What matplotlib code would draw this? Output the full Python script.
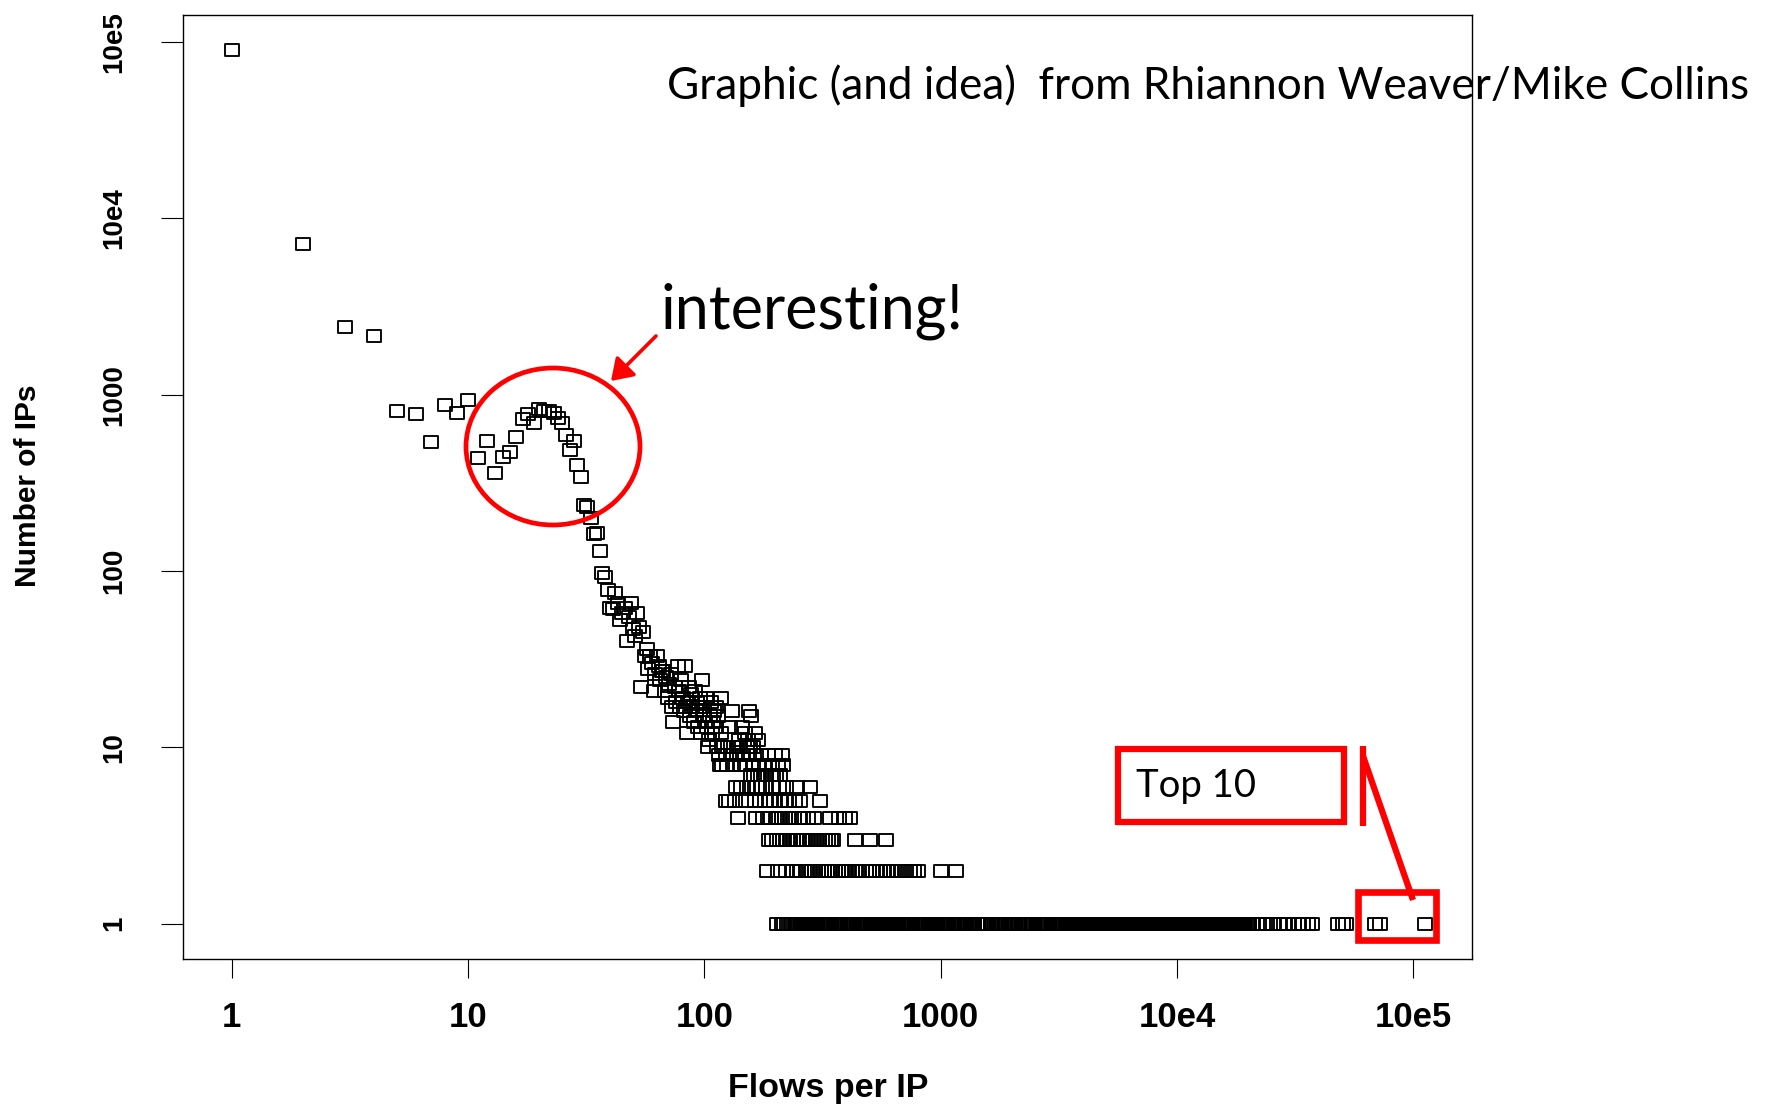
import matplotlib
matplotlib.use("Agg")
import matplotlib.pyplot as plt
from matplotlib.path import Path
from matplotlib.patches import Ellipse, Rectangle, FancyArrowPatch
from matplotlib.lines import Line2D
from matplotlib.ticker import NullLocator

W, H, DPI = 1773, 1106, 100

# ---- data: number of IPs observed for each flows-per-IP value ----
peak_flows = [1, 2, 3, 4, 5, 6, 7, 8, 9, 10, 11, 12, 13, 14, 15, 16, 17, 18,
              19, 20, 21, 22, 23, 24, 25, 26, 27, 28, 29, 30, 31, 32, 33, 34, 35, 36]
peak_counts = [90000, 7100, 2420, 2150, 810, 780, 540, 876, 785, 935, 436, 549,
               359, 442, 472, 574, 729, 775, 689, 828, 804, 804, 785, 735, 689,
               590, 483, 548, 400, 341, 237, 232, 199, 163, 164, 130]

cloud_flows = [37, 38, 39, 40, 41, 42, 43, 44, 45, 46, 47, 48, 49, 50, 51, 52,
               53, 54, 55, 56, 57, 58, 59, 60, 61, 62, 63, 64, 65, 66, 67, 68,
               69, 70, 71, 72, 73, 74, 75, 76, 77, 78, 79, 80, 81, 82, 83, 84,
               85, 86, 87, 88, 89, 90, 91, 92, 93, 94, 95, 96, 97, 98, 99, 100,
               101, 102, 103, 105, 106, 107, 108, 109, 110, 111, 112, 114, 117,
               118, 128, 131, 140, 144, 148, 153, 155, 158, 163, 168]
cloud_counts = [98, 92, 78, 62, 61, 75, 66, 53, 58, 62, 40, 55, 66, 47, 43, 58,
                48, 22, 45, 33, 36, 28, 33, 30, 21, 26, 33, 29, 24, 27, 27, 21,
                25, 19, 23, 26, 17, 14, 22, 18, 29, 21, 17, 24, 19, 16, 29, 12,
                18, 22, 15, 20, 17, 14, 21, 16, 18, 13, 17, 19, 12, 24, 15, 17,
                14, 19, 13, 11, 15, 18, 12, 14, 16, 13, 17, 15, 12,
                19, 13, 16, 11, 13, 12, 11, 16, 15, 12, 11]

# flows-per-IP values seen for the small counts 10 ... 1
flows_count10 = [104, 113, 121, 126, 133, 137, 142, 151, 156, 161]
flows_count9 = [115, 123, 130, 138, 146, 154, 165, 174, 186, 198, 212]
flows_count8 = [116, 119, 125, 132, 141, 149, 160, 171, 181, 193, 204, 215]
flows_count7 = [157, 162, 169, 173, 178, 182, 191, 196, 201, 209]
flows_count6 = [136, 143, 152, 159, 167, 175, 183, 195, 207, 222, 247, 281]
flows_count5 = [124, 127, 135, 150, 164, 172, 180, 189, 197, 208, 219, 229,
                241, 255, 309]
flows_count4 = [139, 166, 177, 185, 192, 200, 206, 213, 220, 226, 233, 240, 251,
                262, 274, 290, 339, 371, 393, 414]
flows_count3 = [187, 194, 202, 209, 216, 224, 231, 237, 244, 250, 258, 265, 272,
                280, 288, 297, 305, 314, 323, 333, 342, 349, 433, 501, 586]
flows_count2 = [184, 205, 221, 236, 246, 256, 268, 277, 286, 294, 302, 311, 320,
                329, 338, 347, 358, 366, 377, 388, 399, 410, 422, 437, 451, 466,
                481, 497, 514, 532, 551, 571, 592, 614, 637, 661, 688, 716, 745,
                772, 800, 1006, 1164]
flows_count1 = [
    203, 212, 218, 223, 228, 235, 239, 243, 248, 253, 259, 263, 267, 271, 276,
    279, 283, 287, 292, 296, 299, 304, 308, 313, 317, 322, 326, 331, 336, 341,
    345, 352, 356, 362, 369, 375, 381, 386, 392, 397, 404, 412, 418, 426, 431,
    441, 447, 456, 463, 471, 478, 486, 492, 503, 511, 522, 528, 539, 547, 558,
    566, 577, 588, 599, 609, 621, 633, 646, 659, 672, 684, 699, 713, 729, 742,
    759, 776, 789, 801, 818, 830, 846, 859, 871, 890, 903, 919, 937, 952, 968,
    990, 1004, 1027, 1043, 1066, 1082, 1101, 1127, 1146, 1168, 1190, 1214, 1236,
    1262, 1283, 1311, 1338, 1362, 1390, 1418, 1441, 1472, 1503, 1529, 1562,
    1590, 1626, 1655, 1692, 1724, 1760, 1797, 1829, 1872, 1907, 1949, 1985,
    2031, 2068, 2115, 2152, 2203, 2247, 2290, 2343, 2389, 2441, 2490, 2546,
    2597, 2651, 2712, 2766, 2829, 2884, 2950, 3008, 3041, 3077, 3108, 3139,
    3170, 3206, 3240, 3275, 3306, 3340, 3379, 3418, 3451, 3486, 3525, 3567,
    3601, 3638, 3680, 3722, 3759, 3796, 3838, 3880, 3921, 3962, 4005, 4049,
    4090, 4131, 4178, 4226, 4268, 4310, 4358, 4407, 4452, 4498, 4549, 4601,
    4647, 4693, 4746, 4800, 4848, 4897, 4954, 5011, 5061, 5112, 5169, 5226,
    5280, 5335, 5392, 5450, 5508, 5566, 5628, 5690, 5749, 5809, 5873, 5938,
    5999, 6060, 6128, 6197, 6261, 6326, 6398, 6470, 6537, 6604, 6678, 6752,
    6822, 6893, 6971, 7050, 7122, 7195, 7277, 7360, 7436, 7512, 7598, 7684,
    7763, 7843, 7931, 8020, 8105, 8190, 8282, 8375, 8462, 8550, 8647, 8744,
    8837, 8930, 9030, 9131, 9228, 9325, 9430, 9536, 9637, 9738, 9848, 9958,
    10060, 10170, 10290, 10400, 10510, 10620, 10740, 10860, 10970, 11090,
    11210, 11340, 11460, 11580, 11710, 11850, 11970, 12100, 12240, 12380,
    12510, 12640, 12780, 12930, 13070, 13210, 13360, 13510, 13650, 13800,
    13960, 14120, 14270, 14420, 14590, 14760, 14910, 15070, 15240, 15420,
    15590, 15760, 15940, 16120, 16290, 16470, 16660, 16850, 17030, 17220,
    17420, 17620, 17810, 18000, 18210, 18420, 18620, 18830, 19040, 19260,
    19470, 19690, 19920, 20150, 20800, 21900, 23200, 24100, 25600, 26900,
    28300, 29500, 31200, 32900, 34100, 35800, 37200,
    48000, 50400, 51700, 68700, 72200, 112000]

tick_values = [1, 10, 100, 1000, 10000, 100000]
tick_labels = ["1", "10", "100", "1000", "10e4", "10e5"]

# ---- assemble all points ----
small_rows = [(flows_count10, 10), (flows_count9, 9), (flows_count8, 8),
              (flows_count7, 7), (flows_count6, 6), (flows_count5, 5),
              (flows_count4, 4), (flows_count3, 3), (flows_count2, 2),
              (flows_count1, 1)]
xs = list(peak_flows) + list(cloud_flows)
ys = list(peak_counts) + list(cloud_counts)
for flows, count in small_rows:
    xs += flows
    ys += [count] * len(flows)

axis_font = ["Liberation Sans", "DejaVu Sans"]
note_font = ["Lato", "DejaVu Sans"]

fig = plt.figure(figsize=(W / DPI, H / DPI), dpi=DPI)
fig.patch.set_facecolor("white")


def fx(px):
    return px / W


def fy(py):
    return 1 - py / H


ax = fig.add_axes([fx(183), fy(959), (1472 - 183) / W, (959 - 15) / H])
ax.set_xscale("log")
ax.set_yscale("log")
ax.set_xlim(10 ** -0.2065, 10 ** 5.2484)
ax.set_ylim(10 ** -0.1995, 10 ** 5.152)

open_box = Path([(-1, -0.8), (1, -0.8), (1, 0.8), (-1, 0.8), (-1, -0.8)],
                [Path.MOVETO, Path.LINETO, Path.LINETO, Path.LINETO, Path.CLOSEPOLY])
ax.plot(xs, ys, linestyle="none", marker=open_box, markersize=10.4,
        markerfacecolor="none", markeredgecolor="black", markeredgewidth=1.35)

for s in ax.spines.values():
    s.set_linewidth(1.0)
    s.set_color("black")

ax.set_xticks(tick_values)
ax.set_xticklabels(tick_labels, family=axis_font, fontsize=25, fontweight="bold")
ax.set_yticks(tick_values)
ax.set_yticklabels(tick_labels, family=axis_font, fontsize=20, fontweight="bold",
                   rotation=90, va="center")
ax.xaxis.set_minor_locator(NullLocator())
ax.yaxis.set_minor_locator(NullLocator())
ax.tick_params(axis="x", direction="out", length=13.5, width=0.8, pad=17)
ax.tick_params(axis="y", direction="out", length=16, width=0.8, pad=24)

fig.text(fx(828), fy(1088), "Flows per IP", family=axis_font, fontsize=24.5,
         fontweight="bold", ha="center", va="center")
fig.text(fx(28), fy(486), "Number of IPs", family=axis_font, fontsize=21.5,
         fontweight="bold", ha="center", va="center", rotation=90)

# ---- annotations ----
red = "#ff0000"
fig.text(fx(667), fy(99), "Graphic (and idea)  from Rhiannon Weaver/Mike Collins",
         family=note_font, fontsize=31.8, ha="left", va="baseline", color="black")
fig.text(fx(661), fy(329), "interesting!", family=note_font, fontsize=44,
         ha="left", va="baseline", color="black")
fig.add_artist(Ellipse((fx(553), fy(446.5)), width=174 / W, height=157 / H,
                       transform=fig.transFigure, fill=False, edgecolor=red,
                       linewidth=3.4))
fig.add_artist(FancyArrowPatch((fx(656), fy(336)), (fx(611), fy(381)),
                               transform=fig.transFigure,
                               arrowstyle="-|>,head_length=0.45,head_width=0.3",
                               mutation_scale=28, color=red, linewidth=2.6,
                               shrinkA=0, shrinkB=0))

fig.add_artist(Rectangle((fx(1118), fy(822)), (1344 - 1118) / W, (822 - 749) / H,
                         transform=fig.transFigure, fill=False, edgecolor=red,
                         linewidth=4.5))
fig.text(fx(1136), fy(786), "Top 10", family=note_font, fontsize=27.5,
         ha="left", va="center", color="black")
fig.add_artist(Line2D([fx(1362.5), fx(1362.5)], [fy(746), fy(826)],
                      transform=fig.transFigure, color=red, linewidth=4.5,
                      solid_capstyle="butt"))
fig.add_artist(Line2D([fx(1363), fx(1413)], [fy(756), fy(900)],
                      transform=fig.transFigure, color=red, linewidth=4.5,
                      solid_capstyle="butt"))
fig.add_artist(Rectangle((fx(1357.5), fy(940)), (1436 - 1357.5) / W, (940 - 892) / H,
                         transform=fig.transFigure, fill=False, edgecolor=red,
                         linewidth=4.8))

fig.savefig("out.png", dpi=DPI, facecolor="white")
